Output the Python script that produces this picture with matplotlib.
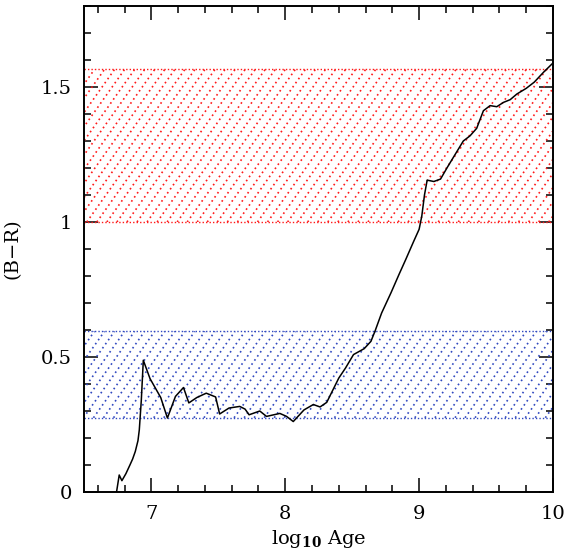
import numpy as np
import matplotlib
matplotlib.use("Agg")
import matplotlib.pyplot as plt
from matplotlib.patches import Rectangle
from matplotlib.ticker import MultipleLocator

# colour track of the model (log10 age vs B-R)
log_age = [6.74, 6.76, 6.78, 6.81, 6.84, 6.86, 6.88, 6.90, 6.91, 6.925, 6.94, 6.99,
           7.07, 7.12, 7.18, 7.24, 7.28, 7.34, 7.41, 7.48, 7.51, 7.58, 7.66, 7.70,
           7.73, 7.81, 7.86, 7.96, 8.01, 8.06, 8.14, 8.21, 8.26, 8.31, 8.40, 8.45,
           8.51, 8.59, 8.64, 8.67, 8.72, 8.79, 8.85, 8.90, 8.96, 9.00, 9.02, 9.04,
           9.06, 9.11, 9.16, 9.21, 9.27, 9.33, 9.38, 9.43, 9.48, 9.53, 9.58, 9.63,
           9.68, 9.73, 9.80, 9.86, 9.93, 10.0]
b_r = [0.0, 0.063, 0.042, 0.068, 0.10, 0.122, 0.150, 0.19, 0.23, 0.34, 0.488, 0.42,
       0.35, 0.274, 0.354, 0.387, 0.33, 0.35, 0.366, 0.352, 0.289, 0.311, 0.317, 0.307,
       0.286, 0.30, 0.28, 0.291, 0.28, 0.261, 0.304, 0.324, 0.315, 0.332, 0.422, 0.459,
       0.509, 0.531, 0.558, 0.595, 0.663, 0.738, 0.806, 0.861, 0.929, 0.973, 1.022, 1.10,
       1.155, 1.15, 1.159, 1.202, 1.251, 1.30, 1.319, 1.347, 1.412, 1.431, 1.427, 1.443,
       1.453, 1.474, 1.495, 1.518, 1.555, 1.589]

# observed colour ranges
red_band = (1.0, 1.565)
blue_band = (0.275, 0.595)

plt.rcParams['font.family'] = ['DejaVu Serif']
plt.rcParams['mathtext.fontset'] = 'dejavuserif'

fig = plt.figure(figsize=(5.68, 5.55), dpi=100)
ax = fig.add_axes([0.1486, 0.1135, 0.825, 0.8757])
xmin, xmax = 6.5, 10.0
ax.set_xlim(xmin, xmax)
ax.set_ylim(0, 1.8)

def hatch_band(lo, hi, color):
    clip = Rectangle((xmin, lo), xmax - xmin, hi - lo, transform=ax.transData,
                     facecolor='none', edgecolor='none')
    ax.add_patch(clip)
    slope = 0.7  # data units of y per unit x
    step = 0.075
    run = (hi - lo) / slope
    for c in np.arange(xmin - run - step, xmax + step, step):
        ln, = ax.plot([c, c + run], [lo, hi], color=color, lw=1.2, ls=(0, (1, 2.0)))
        ln.set_clip_path(clip)
    for yy in (lo, hi):
        ax.plot([xmin, xmax], [yy, yy], color=color, lw=1.0, ls=(0, (1, 1.5)))

hatch_band(*red_band, '#ff1a1a')
hatch_band(*blue_band, '#3048c0')

ax.plot(log_age, b_r, color='black', lw=1.1)

ax.xaxis.set_major_locator(MultipleLocator(1))
ax.xaxis.set_minor_locator(MultipleLocator(0.2))
ax.yaxis.set_minor_locator(MultipleLocator(0.1))
ax.set_yticks([0, 0.5, 1, 1.5])
ax.set_yticklabels(['0', '0.5', '1', '1.5'])
ax.tick_params(which='both', direction='in', top=True, right=True, labelsize=14, width=1.1)
ax.tick_params(which='major', length=10, pad=9)
ax.tick_params(which='minor', length=5)
for s in ax.spines.values():
    s.set_linewidth(1.4)

ax.set_xlabel(r'log$_{\mathbf{10}}$ Age', fontsize=14, labelpad=4)
ax.set_ylabel('(B\u2212R)', fontsize=14, labelpad=14)

fig.savefig('out.png', dpi=100)
